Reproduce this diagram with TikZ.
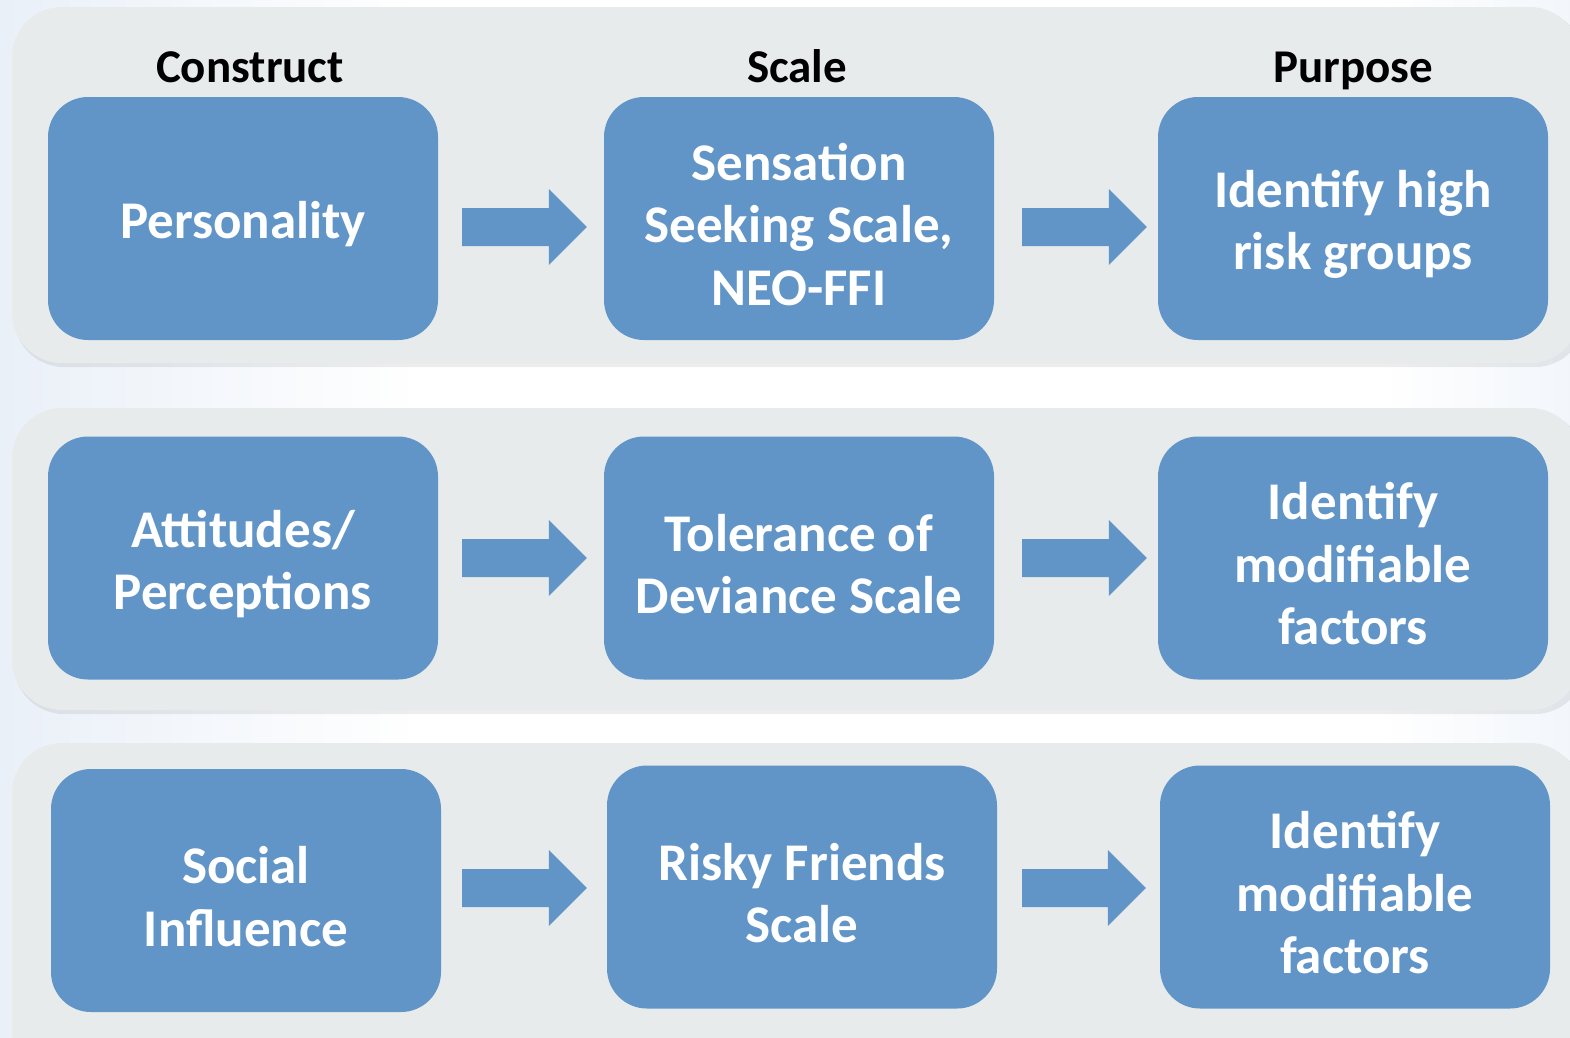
\documentclass[tikz,border=0pt]{standalone}
\usepackage{fontspec}
\setmainfont{Carlito}
\usetikzlibrary{calc}
\definecolor{boxblue}{RGB}{97,149,200}
\definecolor{panelgray}{RGB}{231,235,236}
\definecolor{bgblue}{RGB}{234,240,248}
% #1 from, #2 to, #3 start offset, #4 tip offset, #5 dy at from, #6 dy at to
\newcommand{\blockarrow}[6]{%
  \fill[boxblue] ($(#1.east)+(#3,#5-19)$) -- ($(#2.west)+(-#4-38,#6-19)$) -- ($(#2.west)+(-#4-38,#6-38)$)
    -- ($(#2.west)+(-#4,#6)$) -- ($(#2.west)+(-#4-38,#6+38)$) -- ($(#2.west)+(-#4-38,#6+19)$)
    -- ($(#1.east)+(#3,#5+19)$) -- cycle;}
\begin{document}
\begin{tikzpicture}[x=1pt,y=-1pt,
  box/.style={fill=boxblue, rounded corners=40pt, minimum width=390pt, minimum height=243pt, inner sep=0pt},
  boxtext/.style={align=center, text=white, inner sep=0pt, font=\fontsize{53}{62.5}\selectfont\bfseries},
  hdr/.style={anchor=base, text=black, inner sep=0pt, font=\fontsize{47}{55}\selectfont\bfseries},
  panel/.style={fill=panelgray, rounded corners=50pt},
  panelshadow/.style={fill=black, opacity=0.07, rounded corners=50pt}]
\useasboundingbox (0,0) rectangle (1570,1037);
\clip (0,0) rectangle (1570,1037);
\fill[white] (0,0) rectangle (1570,1037);
\shade[left color=bgblue, right color=white] (0,0) rectangle (420,1037);
\shade[left color=white, right color=bgblue!60] (1380,0) rectangle (1570,1037);
% panels
\fill[panelshadow] (14,11) rectangle (1585,367);
\fill[panel] (12,7) rectangle (1580,363);
\fill[panelshadow] (14,412) rectangle (1585,714);
\fill[panel] (12,408) rectangle (1580,710);
\fill[panelshadow] (14,747) rectangle (1585,1090);
\fill[panel] (12,743) rectangle (1580,1085);
% headers
\node[hdr] (h1) at (250,82) {Construct};
\node[hdr] (h2) at (797,82) {Scale};
\node[hdr] (h3) at (1353,82) {Purpose};
% row 1
\node[box] (a1) at (243,218.5) {};
\node[box] (b1) at (799,218.5) {};
\node[box] (c1) at (1353,218.5) {};
\node[boxtext] (a1t) at ($(a1)+(0,6)$) {Personality};
\node[boxtext] (b1t) at ($(b1)+(0,6)$) {Sensation\\Seeking Scale,\\NEO-FFI};
\node[boxtext] (c1t) at ($(c1)+(0,6)$) {Identify high\\risk groups};
% row 2
\node[box] (a2) at (243,558) {};
\node[box] (b2) at (799,558) {};
\node[box] (c2) at (1353,558) {};
\node[boxtext] (a2t) at ($(a2)+(0,6)$) {Attitudes/\\Perceptions};
\node[boxtext] (b2t) at ($(b2)+(0,6)$) {Tolerance of\\Deviance Scale};
\node[boxtext] (c2t) at ($(c2)+(0,6)$) {Identify\\modifiable\\factors};
% row 3
\node[box] (a3) at (246,890.5) {};
\node[box] (b3) at (802,887) {};
\node[box] (c3) at (1355,887) {};
\node[boxtext] (a3t) at ($(a3)+(0,6)$) {Social\\Influence};
\node[boxtext] (b3t) at ($(b3)+(0,6)$) {Risky Friends\\Scale};
\node[boxtext] (c3t) at ($(c3)+(0,6)$) {Identify\\modifiable\\factors};
% arrows
\blockarrow{a1}{b1}{24}{17}{8.5}{8.5}
\blockarrow{b1}{c1}{28}{11}{8.5}{8.5}
\blockarrow{a2}{b2}{24}{17}{0}{0}
\blockarrow{b2}{c2}{28}{11}{0}{0}
\blockarrow{a3}{b3}{21}{20}{-2.5}{1}
\blockarrow{b3}{c3}{25}{14}{1}{1}
\end{tikzpicture}
\end{document}
